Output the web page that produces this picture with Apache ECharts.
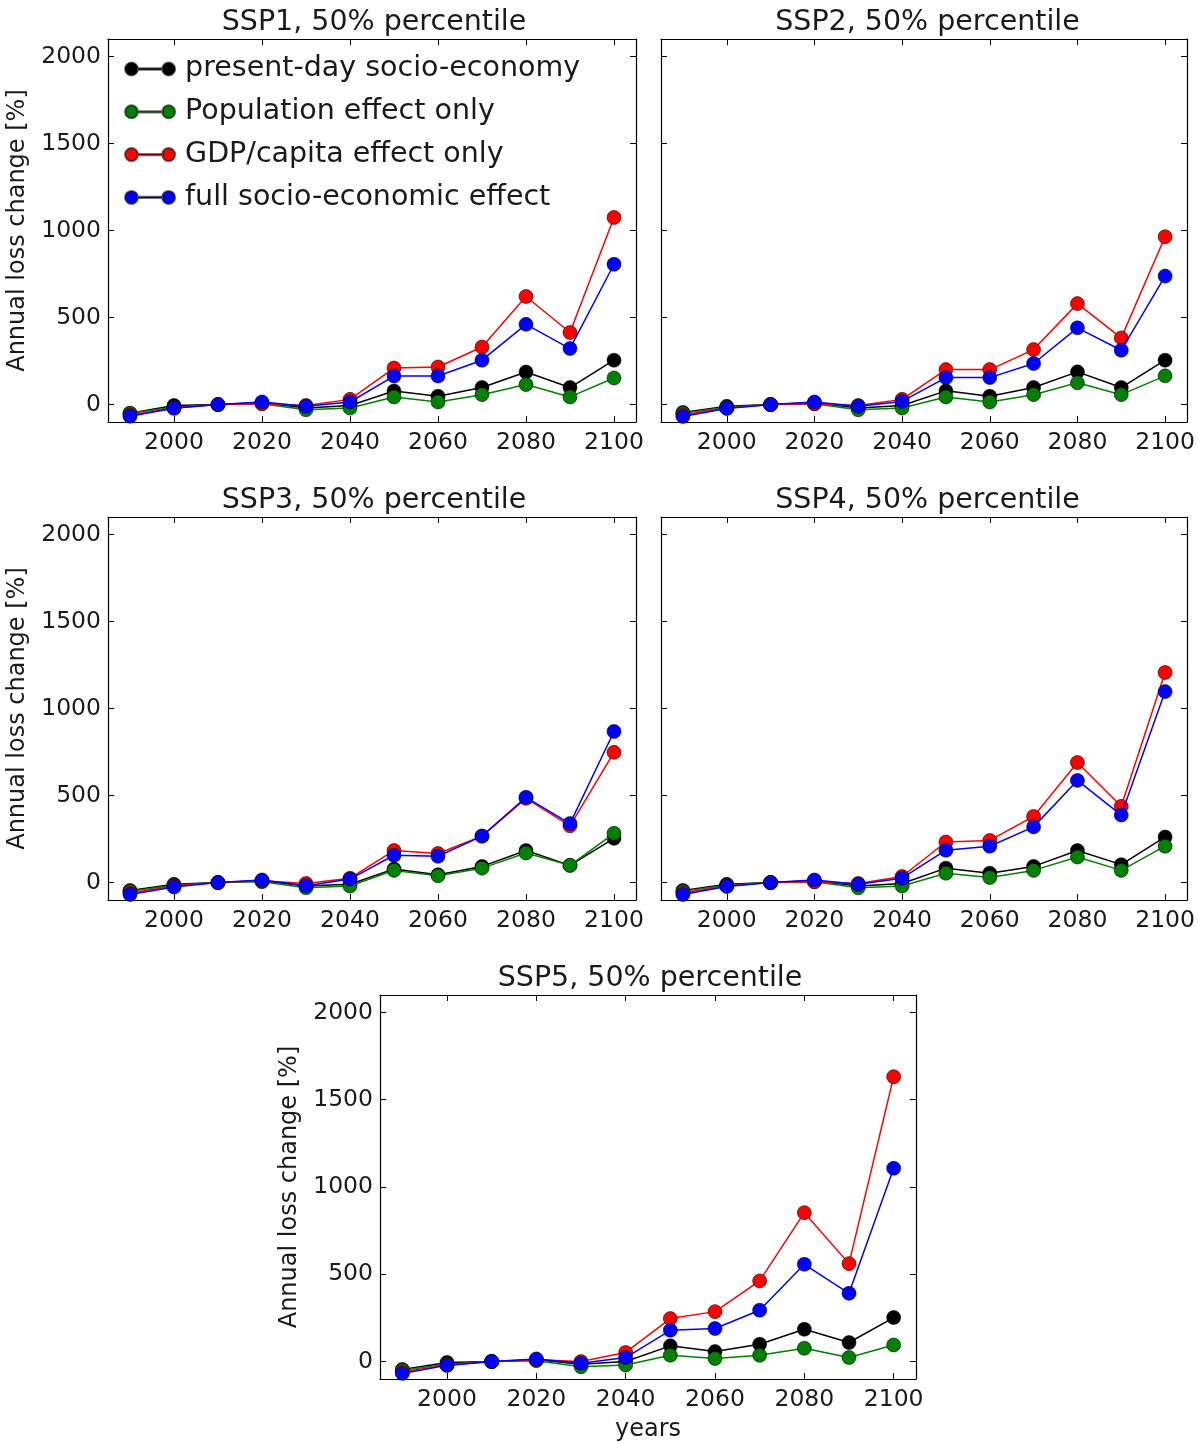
<!DOCTYPE html>
<html>
<head>
<meta charset="utf-8">
<title>Annual loss change, SSP1-SSP5</title>
<script src="https://cdn.jsdelivr.net/npm/echarts@6/dist/echarts.min.js"></script>
<style>
  html, body { margin: 0; padding: 0; background: #fff; }
  #chart { width: 1198px; height: 1443px; }
</style>
</head>
<body>
<div id="chart"></div>
<script>
// data
const years = [1990, 2000, 2010, 2020, 2030, 2040, 2050, 2060, 2070, 2080, 2090, 2100];
const xTicks = [2000, 2020, 2040, 2060, 2080, 2100];
const yTicks = [0, 500, 1000, 1500, 2000];
const seriesNames = ['present-day socio-economy', 'Population effect only', 'GDP/capita effect only', 'full socio-economic effect'];
const panelTitles = ['SSP1, 50% percentile', 'SSP2, 50% percentile', 'SSP3, 50% percentile', 'SSP4, 50% percentile', 'SSP5, 50% percentile'];

const ssp1Present = [-50, -5, 0, 10, -20, -5, 78, 48, 98, 187, 98, 255];
const ssp1Pop     = [-50, -15, 0, 5, -30, -20, 44, 15, 57, 115, 44, 153];
const ssp1Gdp     = [-60, -20, 0, 5, -5, 30, 210, 216, 331, 621, 414, 1075];
const ssp1Full    = [-67, -21, 0, 15, -10, 15, 164, 164, 255, 461, 322, 806];

const ssp2Present = [-45, -10, 0, 10, -20, -5, 79, 48, 98, 188, 98, 255];
const ssp2Pop     = [-50, -15, 0, 5, -30, -20, 44, 15, 57, 125, 57, 165];
const ssp2Gdp     = [-60, -20, 0, 5, -5, 30, 201, 201, 316, 580, 383, 964];
const ssp2Full    = [-68, -22, 0, 15, -10, 18, 155, 155, 236, 441, 312, 738];

const ssp3Present = [-45, -10, 0, 10, -20, -10, 78, 45, 93, 184, 99, 254];
const ssp3Pop     = [-50, -15, 0, 5, -30, -20, 70, 39, 83, 170, 99, 283];
const ssp3Gdp     = [-60, -20, 0, 10, -5, 25, 184, 167, 267, 484, 326, 748];
const ssp3Full    = [-68, -25, 0, 15, -18, 20, 157, 151, 267, 490, 339, 868];

const ssp4Present = [-45, -10, 0, 10, -20, -5, 83, 54, 93, 184, 103, 262];
const ssp4Pop     = [-50, -15, 0, 5, -30, -20, 54, 29, 70, 147, 70, 209];
const ssp4Gdp     = [-60, -20, 0, 5, -5, 35, 233, 242, 380, 690, 438, 1207];
const ssp4Full    = [-68, -22, 0, 15, -10, 25, 186, 209, 320, 587, 388, 1097];

const ssp5Present = [-45, -5, 0, 10, -15, 0, 90, 57, 99, 185, 109, 252];
const ssp5Pop     = [-50, -15, 0, 5, -30, -20, 36, 17, 36, 76, 23, 95];
const ssp5Gdp     = [-60, -20, 0, 10, 0, 52, 246, 286, 462, 853, 561, 1632];
const ssp5Full    = [-68, -22, 0, 15, -10, 23, 179, 189, 294, 557, 391, 1107];

const panels = [
    [ssp1Present, ssp1Pop, ssp1Gdp, ssp1Full],
    [ssp2Present, ssp2Pop, ssp2Gdp, ssp2Full],
    [ssp3Present, ssp3Pop, ssp3Gdp, ssp3Full],
    [ssp4Present, ssp4Pop, ssp4Gdp, ssp4Full],
    [ssp5Present, ssp5Pop, ssp5Gdp, ssp5Full]
];

const colors = ['#000000', '#008000', '#ff0000', '#0000ff'];
const font = 'DejaVu Sans';
const textColor = '#1a1a1a';

// plot boxes in pixels
const grids = [
    { left: 108, top: 39, width: 528, height: 383 },
    { left: 661, top: 39, width: 529, height: 383 },
    { left: 108, top: 517, width: 528, height: 383 },
    { left: 661, top: 517, width: 529, height: 383 },
    { left: 380, top: 995, width: 536, height: 385 }
];
const showYLabels = [true, false, true, false, true];

const chart = echarts.init(document.getElementById('chart'));

const xAxes = [];
const yAxes = [];
const series = [];
const titles = [];

function plain(v) { return String(v); }

grids.forEach(function(g, i) {
    const tickStyle = { show: true, inside: true, length: 6, lineStyle: { color: '#000', width: 1 } };
    const lineStyle = { show: true, onZero: false, lineStyle: { color: '#000', width: 1.2 } };

    xAxes.push({
        type: 'value', gridIndex: i, position: 'bottom', min: 1985, max: 2105,
        axisLine: lineStyle,
        axisTick: Object.assign({ customValues: xTicks }, tickStyle),
        axisLabel: { customValues: xTicks, formatter: plain, fontFamily: font, fontSize: 23.5, color: textColor, margin: 9 },
        splitLine: { show: false },
        name: i === 4 ? 'years' : '', nameLocation: 'middle', nameGap: 39,
        nameTextStyle: { fontFamily: font, fontSize: 24, color: textColor }
    });
    xAxes.push({
        type: 'value', gridIndex: i, position: 'top', min: 1985, max: 2105,
        axisLine: lineStyle,
        axisTick: Object.assign({ customValues: xTicks }, tickStyle),
        axisLabel: { show: false },
        splitLine: { show: false }
    });
    yAxes.push({
        type: 'value', gridIndex: i, position: 'left', min: -100, max: 2100,
        axisLine: lineStyle,
        axisTick: Object.assign({ customValues: yTicks }, tickStyle),
        axisLabel: { show: showYLabels[i], customValues: yTicks, formatter: plain, fontFamily: font, fontSize: 23.5, color: textColor, margin: 7 },
        splitLine: { show: false },
        name: showYLabels[i] ? 'Annual loss change [%]' : '',
        nameLocation: 'middle', nameGap: 78,
        nameTextStyle: { fontFamily: font, fontSize: 24, color: textColor }
    });
    yAxes.push({
        type: 'value', gridIndex: i, position: 'right', min: -100, max: 2100,
        axisLine: lineStyle,
        axisTick: Object.assign({ customValues: yTicks }, tickStyle),
        axisLabel: { show: false },
        splitLine: { show: false }
    });

    titles.push({
        text: panelTitles[i],
        left: g.left + g.width / 2 - 3,
        top: g.top - 36,
        textAlign: 'center',
        textStyle: { fontFamily: font, fontSize: 28.5, fontWeight: 'normal', color: textColor }
    });

    panels[i].forEach(function(values, k) {
        series.push({
            name: seriesNames[k],
            type: 'line',
            xAxisIndex: 2 * i,
            yAxisIndex: 2 * i,
            data: years.map(function(y, n) { return [y, values[n]]; }),
            symbol: 'circle',
            symbolSize: 14,
            showSymbol: true,
            lineStyle: { color: colors[k], width: 1.5 },
            itemStyle: { color: colors[k], borderColor: 'rgba(0,0,0,0.55)', borderWidth: 1 },
            z: 2 + k,
            animation: false
        });
    });
});

// legend icon: short line with a marker at each end
const legendIcon = 'path://M0,7a7,7 0 1,0 14,0a7,7 0 1,0 -14,0Z M13,6.3L41,6.3L41,7.7L13,7.7Z M40,7a7,7 0 1,0 14,0a7,7 0 1,0 -14,0Z';

const option = {
    backgroundColor: '#fff',
    animation: false,
    title: titles,
    grid: grids,
    xAxis: xAxes,
    yAxis: yAxes,
    legend: {
        data: seriesNames.map(function(n) { return { name: n, icon: legendIcon }; }),
        orient: 'vertical',
        left: 124,
        top: 54,
        padding: 0,
        itemWidth: 54,
        itemHeight: 13,
        itemGap: 12.8,
        selectedMode: false,
        textStyle: { fontFamily: font, fontSize: 28.5, color: textColor, lineHeight: 30, padding: [0, 0, 0, 3] }
    },
    series: series
};

chart.setOption(option);
</script>
</body>
</html>
